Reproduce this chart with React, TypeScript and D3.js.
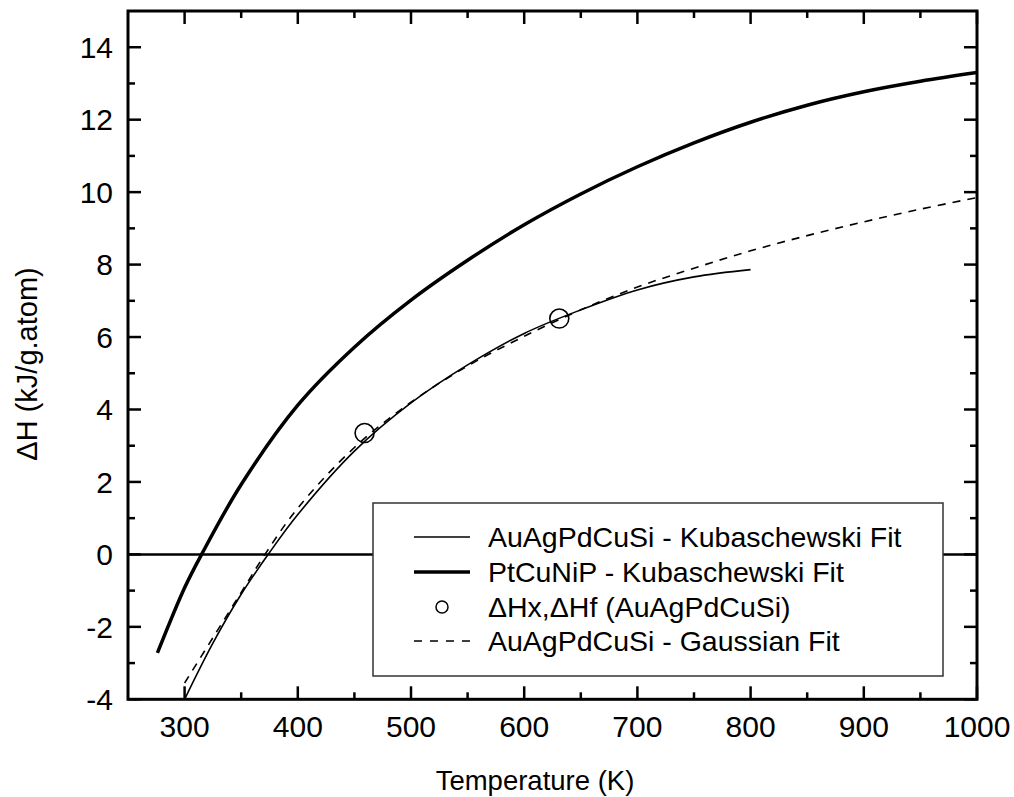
import React from "react";
import * as d3 from "d3";

// Temperature (K) and enthalpy ΔH (kJ/g.atom)
const ptCuNiPT = [276, 300, 315, 350, 400, 450, 500, 550, 600, 650, 700, 750, 800, 850, 900, 950, 1000];
const ptCuNiPH = [-2.72, -0.92, 0.0, 1.93, 4.12, 5.72, 7.02, 8.12, 9.1, 9.95, 10.7, 11.36, 11.93, 12.4, 12.77, 13.06, 13.3];

const auKubT = [300, 325, 350, 375, 400, 450, 500, 550, 600, 650, 700, 750, 800];
const auKubH = [-4.0, -2.45, -1.1, 0.05, 1.1, 2.85, 4.18, 5.23, 6.1, 6.75, 7.3, 7.66, 7.86];

const auGaussT = [300, 325, 350, 371, 400, 450, 500, 550, 600, 650, 700, 750, 800, 850, 900, 950, 1000];
const auGaussH = [-3.55, -2.3, -1.05, 0.0, 1.28, 2.95, 4.2, 5.2, 6.02, 6.75, 7.38, 7.9, 8.38, 8.8, 9.18, 9.53, 9.85];

const pointsT = [459, 631];
const pointsH = [3.35, 6.51];

const xMajor = [300, 400, 500, 600, 700, 800, 900, 1000];
const xMinor = [350, 450, 550, 650, 750, 850, 950];
const yMajor = [-4, -2, 0, 2, 4, 6, 8, 10, 12, 14];
const yMinor = [-3, -1, 1, 3, 5, 7, 9, 11, 13];

const legendLabels = [
  "AuAgPdCuSi - Kubaschewski Fit",
  "PtCuNiP - Kubaschewski Fit",
  "\u0394Hx,\u0394Hf (AuAgPdCuSi)",
  "AuAgPdCuSi - Gaussian Fit",
];

const W = 1014;
const H = 797;
const left = 128;
const right = 977;
const top = 11;
const bottom = 699.3;

const FONT = "'Liberation Sans', Arial, Helvetica, sans-serif";

export default function App() {
  const x = d3.scaleLinear().domain([250, 1000]).range([left, right]);
  const y = d3.scaleLinear().domain([-4, 15]).range([bottom, top]);

  const line = d3
    .line<[number, number]>()
    .x((d) => x(d[0]))
    .y((d) => y(d[1]))
    .curve(d3.curveCatmullRom.alpha(0.5));

  const zip = (a: number[], b: number[]) => a.map((t, i) => [t, b[i]] as [number, number]);

  const majorLen = 13;
  const minorLen = 7;

  const legendX = 373;
  const legendY = 503;
  const legendW = 570;
  const legendH = 173;
  const rowY = [537, 572, 607, 641];
  const sampleX0 = 414;
  const sampleX1 = 470;
  const textX = 488;

  return (
    <svg
      width={W}
      height={H}
      style={{ position: "absolute", left: 0, top: 0, background: "#fff" }}
      fontFamily={FONT}
    >
      <rect x={0} y={0} width={W} height={H} fill="#fff" />
      <defs>
        <clipPath id="plot-clip">
          <rect x={left} y={top} width={right - left} height={bottom - top} />
        </clipPath>
      </defs>

      {/* zero reference line */}
      <line x1={left} x2={right} y1={y(0)} y2={y(0)} stroke="#000" strokeWidth={2.5} />

      <g clipPath="url(#plot-clip)" fill="none" stroke="#000">
        <path d={line(zip(ptCuNiPT, ptCuNiPH)) ?? ""} strokeWidth={3.5} />
        <path d={line(zip(auKubT, auKubH)) ?? ""} strokeWidth={1.6} />
        <path d={line(zip(auGaussT, auGaussH)) ?? ""} strokeWidth={1.6} strokeDasharray="8,7" />
        {pointsT.map((t, i) => (
          <circle key={i} cx={x(t)} cy={y(pointsH[i])} r={9.5} strokeWidth={1.6} fill="none" />
        ))}
      </g>

      {/* legend */}
      <g>
        <rect x={legendX} y={legendY} width={legendW} height={legendH} fill="#fff" stroke="#333" strokeWidth={1.5} />
        <line x1={sampleX0} x2={sampleX1} y1={rowY[0]} y2={rowY[0]} stroke="#000" strokeWidth={1.6} />
        <line x1={sampleX0} x2={sampleX1} y1={rowY[1]} y2={rowY[1]} stroke="#000" strokeWidth={3.5} />
        <circle cx={(sampleX0 + sampleX1) / 2} cy={rowY[2]} r={6} fill="none" stroke="#000" strokeWidth={1.5} />
        <line x1={sampleX0} x2={sampleX1} y1={rowY[3]} y2={rowY[3]} stroke="#000" strokeWidth={1.6} strokeDasharray="8,8" />
        {legendLabels.map((s, i) => (
          <text key={i} x={textX} y={rowY[i]} dy="0.36em" fontSize={28.5} fill="#000">
            {s}
          </text>
        ))}
      </g>

      {/* frame and ticks */}
      <rect x={left} y={top} width={right - left} height={bottom - top} fill="none" stroke="#000" strokeWidth={3} />
      <g stroke="#000" strokeWidth={2.5}>
        {xMajor.map((t) => (
          <g key={"xm" + t}>
            <line x1={x(t)} x2={x(t)} y1={bottom} y2={bottom - majorLen} />
            <line x1={x(t)} x2={x(t)} y1={top} y2={top + majorLen} />
          </g>
        ))}
        {xMinor.map((t) => (
          <g key={"xn" + t}>
            <line x1={x(t)} x2={x(t)} y1={bottom} y2={bottom - minorLen} />
            <line x1={x(t)} x2={x(t)} y1={top} y2={top + minorLen} />
          </g>
        ))}
        {yMajor.map((v) => (
          <g key={"ym" + v}>
            <line x1={left} x2={left + majorLen} y1={y(v)} y2={y(v)} />
            <line x1={right} x2={right - majorLen} y1={y(v)} y2={y(v)} />
          </g>
        ))}
        {yMinor.map((v) => (
          <g key={"yn" + v}>
            <line x1={left} x2={left + minorLen} y1={y(v)} y2={y(v)} />
            <line x1={right} x2={right - minorLen} y1={y(v)} y2={y(v)} />
          </g>
        ))}
      </g>

      {/* tick labels */}
      <g fontSize={30} fill="#000">
        {xMajor.map((t) => (
          <text key={"xl" + t} x={x(t)} y={737} textAnchor="middle">
            {String(t)}
          </text>
        ))}
        {yMajor.map((v) => (
          <text key={"yl" + v} x={113} y={y(v)} dy="0.36em" textAnchor="end">
            {v < 0 ? "-" + Math.abs(v) : String(v)}
          </text>
        ))}
      </g>

      {/* axis titles */}
      <text x={535} y={790} textAnchor="middle" fontSize={27.5} fill="#000">
        Temperature (K)
      </text>
      <text
        transform={`translate(37, 364) rotate(-90)`}
        textAnchor="middle"
        fontSize={29}
        fill="#000"
      >
        {"\u0394H (kJ/g.atom)"}
      </text>
    </svg>
  );
}
